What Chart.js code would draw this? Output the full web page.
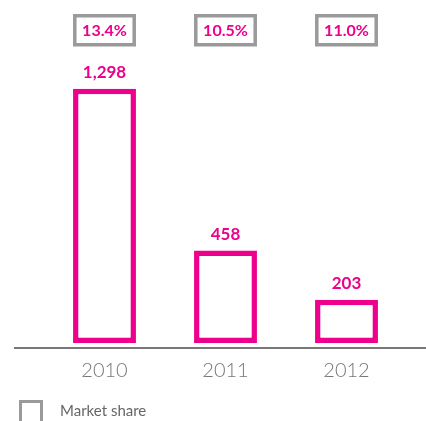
<!DOCTYPE html>
<html>
<head>
<meta charset="utf-8">
<script src="https://cdn.jsdelivr.net/npm/chart.js@4"></script>
<style>
  html, body { margin: 0; padding: 0; background: #fff; }
  #wrap { width: 426px; height: 421px; position: relative; }
</style>
</head>
<body>
<div id="wrap"><canvas id="salesChart"></canvas></div>
<script>
// chart data
const years = ['2010', '2011', '2012'];
const volumes = [1298, 458, 203];
const marketShare = ['13.4%', '10.5%', '11.0%'];
const legendLabel = 'Market share';

const PINK = '#ec008c';
const GREY = '#9a9a9a';

// draws value labels, market share boxes, baseline and legend
const overlayPlugin = {
    id: 'overlay',
    afterDatasetsDraw(chart) {
        const ctx = chart.ctx;
        const meta = chart.getDatasetMeta(0);
        ctx.save();

        // baseline across the full width
        ctx.strokeStyle = '#777';
        ctx.lineWidth = 2;
        ctx.beginPath();
        ctx.moveTo(14, chart.chartArea.bottom + 1);
        ctx.lineTo(chart.width, chart.chartArea.bottom + 1);
        ctx.stroke();

        meta.data.forEach((bar, i) => {
            const half = bar.width / 2;

            // value above each bar
            ctx.fillStyle = PINK;
            ctx.font = 'bold 17px Lato';
            ctx.textAlign = 'center';
            ctx.textBaseline = 'middle';
            ctx.fillText(volumes[i].toLocaleString('en-US'), bar.x, bar.y - 16);

            // market share box
            ctx.strokeStyle = GREY;
            ctx.lineWidth = 3.5;
            ctx.strokeRect(bar.x - half + 1.75, 15.75, bar.width - 3.5, 29);
            ctx.fillStyle = PINK;
            ctx.font = 'bold 16px Lato';
            ctx.fillText(marketShare[i], bar.x, 30.5);
        });

        // legend
        ctx.strokeStyle = GREY;
        ctx.lineWidth = 3;
        ctx.strokeRect(20.5, 401.5, 21, 30);
        ctx.fillStyle = '#666';
        ctx.font = '15px Lato';
        ctx.textAlign = 'left';
        ctx.textBaseline = 'middle';
        ctx.fillText(legendLabel, 60, 411);

        ctx.restore();
    }
};

new Chart(document.getElementById('salesChart'), {
    type: 'bar',
    data: {
        labels: years,
        datasets: [{
            data: volumes,
            base: -21,
            backgroundColor: '#fff',
            borderColor: PINK,
            borderWidth: 5.5,
            borderSkipped: false,
            barPercentage: 0.52,
            categoryPercentage: 1
        }]
    },
    options: {
        responsive: true,
        maintainAspectRatio: false,
        animation: false,
        layout: { padding: { top: 69, left: 44, right: 19, bottom: 0 } },
        plugins: {
            legend: { display: false },
            tooltip: { enabled: false }
        },
        scales: {
            x: {
                grid: { display: false, drawTicks: false },
                border: { display: false },
                ticks: {
                    color: '#777',
                    font: { family: 'Lato', size: 20, weight: '300' },
                    padding: 12
                },
                afterFit(scale) { scale.height = 74; }
            },
            y: {
                display: false,
                min: -42,
                max: 1400
            }
        }
    },
    plugins: [overlayPlugin]
});
</script>
</body>
</html>
